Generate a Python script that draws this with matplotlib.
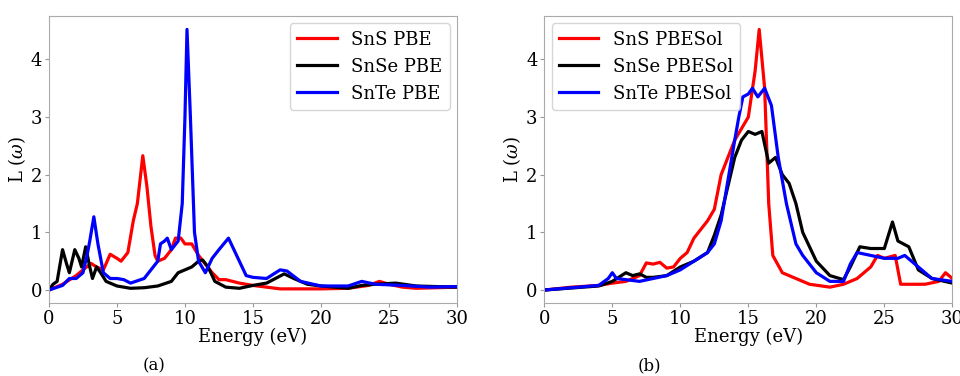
import matplotlib
matplotlib.use("Agg")
import matplotlib.pyplot as plt
import numpy as np

plt.rcParams['font.family'] = ['DejaVu Serif']
plt.rcParams['mathtext.fontset'] = 'dejavuserif'

# ---------------- (a) PBE ----------------
sns_pbe_e = [0, 1, 2, 2.5, 3.1, 3.5, 4, 4.5, 5, 5.3, 5.8, 6.2, 6.5, 6.9, 7.2, 7.5, 7.8, 8,
             8.5, 9, 9.3, 9.7, 10, 10.5, 11, 11.5, 12, 12.5, 13, 14, 15, 16, 17, 20, 22,
             23.5, 24.3, 25, 26, 27, 30]
sns_pbe_l = [0, 0.1, 0.25, 0.35, 0.46, 0.4, 0.35, 0.62, 0.55, 0.5, 0.65, 1.2, 1.5, 2.33, 1.8,
             1.1, 0.6, 0.5, 0.55, 0.7, 0.9, 0.9, 0.8, 0.8, 0.6, 0.45, 0.3, 0.18, 0.18, 0.12,
             0.08, 0.05, 0.02, 0.02, 0.03, 0.08, 0.15, 0.1, 0.05, 0.03, 0.05]

snse_pbe_e = [0, 0.3, 0.6, 1.0, 1.3, 1.5, 1.9, 2.2, 2.4, 2.7, 3.0, 3.2, 3.5, 3.8, 4.2, 5, 6,
              7, 8, 9, 9.5, 10, 10.5, 11, 11.3, 11.7, 12.2, 13, 14, 15, 16, 17.3, 18, 19,
              20, 22, 23, 24, 25.5, 27, 30]
snse_pbe_l = [0, 0.1, 0.15, 0.7, 0.45, 0.3, 0.7, 0.55, 0.4, 0.75, 0.4, 0.2, 0.4, 0.3, 0.15,
              0.07, 0.03, 0.04, 0.07, 0.15, 0.3, 0.35, 0.4, 0.5, 0.52, 0.4, 0.15, 0.05, 0.03,
              0.08, 0.12, 0.28, 0.2, 0.1, 0.07, 0.03, 0.08, 0.1, 0.12, 0.07, 0.05]

snte_pbe_e = [0, 1, 1.5, 2, 2.5, 2.8, 3.0, 3.3, 3.6, 4, 4.5, 5, 5.5, 6, 7, 7.5, 8, 8.2, 8.5,
              8.7, 9, 9.5, 9.8, 10.0, 10.15, 10.4, 10.7, 11, 11.5, 12, 12.5, 13.2, 13.8,
              14.5, 15, 16, 17, 17.5, 18.5, 20, 22, 23, 24, 26, 28, 30]
snte_pbe_l = [0, 0.08, 0.2, 0.2, 0.3, 0.6, 0.85, 1.27, 0.8, 0.3, 0.2, 0.2, 0.18, 0.12, 0.2,
              0.35, 0.5, 0.8, 0.85, 0.9, 0.7, 0.85, 1.5, 3.0, 4.52, 3.0, 1.0, 0.5, 0.3, 0.55,
              0.7, 0.9, 0.6, 0.25, 0.22, 0.2, 0.35, 0.33, 0.15, 0.07, 0.07, 0.15, 0.1, 0.08,
              0.05, 0.06]

# ---------------- (b) PBESol ----------------
sns_sol_e = [0, 2, 4, 5, 6, 7, 7.5, 8, 8.5, 9, 9.5, 10, 10.5, 11, 11.5, 12, 12.5, 13, 13.5,
             14, 14.5, 15, 15.5, 15.8, 16.2, 16.5, 16.8, 17.5, 18.5, 19.5, 21, 22, 23, 24,
             24.5, 25, 25.8, 26.2, 27, 28, 29, 29.5, 30]
sns_sol_l = [0, 0.05, 0.08, 0.12, 0.15, 0.25, 0.47, 0.45, 0.48, 0.38, 0.4, 0.55, 0.65, 0.9,
             1.05, 1.2, 1.4, 2.0, 2.3, 2.6, 2.8, 3.0, 3.8, 4.52, 3.5, 1.5, 0.6, 0.3, 0.2,
             0.1, 0.05, 0.1, 0.2, 0.4, 0.6, 0.55, 0.6, 0.1, 0.1, 0.1, 0.15, 0.3, 0.2]

snse_sol_e = [0, 4, 5, 6, 6.5, 7, 7.5, 8, 9, 10, 11, 12, 12.5, 13, 13.5, 14, 14.5, 15, 15.5,
              16, 16.5, 17, 17.5, 18, 18.5, 19, 20, 21, 22, 22.5, 23.2, 24, 25, 25.6, 26,
              26.8, 27.5, 28.5, 30]
snse_sol_l = [0, 0.07, 0.15, 0.3, 0.25, 0.28, 0.22, 0.22, 0.25, 0.4, 0.5, 0.65, 0.95, 1.3,
              1.8, 2.3, 2.6, 2.75, 2.7, 2.75, 2.2, 2.3, 2.0, 1.85, 1.5, 1.0, 0.5, 0.25, 0.18,
              0.4, 0.75, 0.72, 0.72, 1.18, 0.85, 0.75, 0.35, 0.2, 0.12]

snte_sol_e = [0, 4, 4.7, 5, 5.3, 6, 7, 8, 9, 10, 11, 12, 12.5, 13, 13.5, 14, 14.3, 14.6, 15,
              15.3, 15.7, 16.2, 16.7, 17.2, 17.8, 18.5, 19, 20, 21, 22, 22.5, 23, 24, 25,
              25.5, 26, 26.5, 27.5, 28.5, 30]
snte_sol_l = [0, 0.08, 0.2, 0.3, 0.2, 0.18, 0.15, 0.2, 0.25, 0.35, 0.5, 0.65, 0.8, 1.2, 1.9,
              2.6, 3.0, 3.35, 3.4, 3.5, 3.35, 3.5, 3.2, 2.3, 1.5, 0.8, 0.6, 0.3, 0.15, 0.15,
              0.45, 0.65, 0.6, 0.55, 0.55, 0.55, 0.6, 0.4, 0.2, 0.15]

panels = [
    ([(sns_pbe_e, sns_pbe_l, 'SnS PBE'), (snse_pbe_e, snse_pbe_l, 'SnSe PBE'),
      (snte_pbe_e, snte_pbe_l, 'SnTe PBE')], 'upper right', '(a)'),
    ([(sns_sol_e, sns_sol_l, 'SnS PBESol'), (snse_sol_e, snse_sol_l, 'SnSe PBESol'),
      (snte_sol_e, snte_sol_l, 'SnTe PBESol')], 'upper left', '(b)'),
]
colors = ['red', 'black', 'blue']

fig = plt.figure(figsize=(9.6, 3.76), dpi=100)
lefts = [0.051, 0.567]

for left, (series, loc, tag) in zip(lefts, panels):
    ax = fig.add_axes([left, 0.194, 0.425, 0.763])
    for (e, l, name), c in zip(series, colors):
        ax.plot(e, l, color=c, lw=2.3, label=name)
    ax.set_xlim(0, 30)
    ax.set_ylim(-0.226, 4.75)
    ax.set_xticks([0, 5, 10, 15, 20, 25, 30])
    ax.set_yticks([0, 1, 2, 3, 4])
    ax.tick_params(labelsize=13, length=3, color='#999999', pad=2)
    for sp in ax.spines.values():
        sp.set_color('#aaaaaa')
    ax.set_xlabel('Energy (eV)', fontsize=13, labelpad=0)
    ax.set_ylabel(r'L ($\omega$)', fontsize=13, labelpad=2)
    ax.legend(loc=loc, fontsize=13, handlelength=2.2, borderaxespad=0.4)
    fig.text(left + 0.11, 0.015, tag, fontsize=12, ha='center')

fig.savefig('out.png', dpi=100)
